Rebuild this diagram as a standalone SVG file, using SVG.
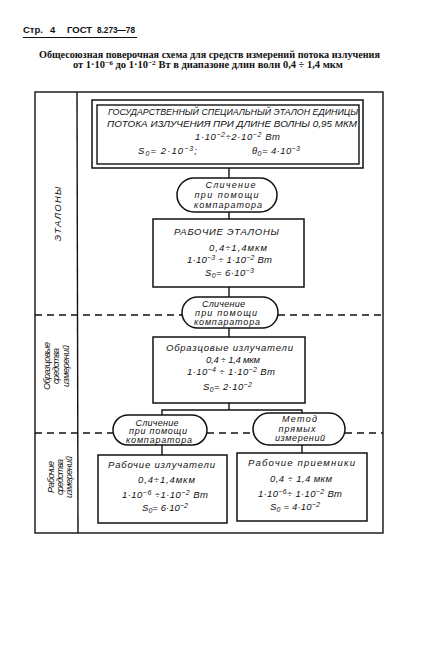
<svg xmlns="http://www.w3.org/2000/svg" width="425" height="663" viewBox="0 0 425 663">
<style>
.ln{stroke:#111;stroke-width:1.4;fill:none}
.bx{stroke:#111;stroke-width:1.5;fill:#fff}
.dash{stroke:#111;stroke-width:1.3;stroke-dasharray:7,5;fill:none}
.t{font-family:"Liberation Sans","DejaVu Sans",sans-serif;font-style:italic;fill:#111;text-anchor:middle}
.b9{font-size:9.5px}
.e8{font-size:9px}
.hd{font-family:"Liberation Sans",sans-serif;font-weight:bold;font-size:9.5px;fill:#111}
.ti{font-family:"Liberation Serif",serif;font-weight:bold;font-size:10px;fill:#111}
</style>
<rect width="425" height="663" fill="#fff"/>
<g id="header">
<text class="hd" x="23" y="33">Стр.</text>
<text class="hd" x="50" y="33">4</text>
<text class="hd" x="67" y="33">ГОСТ</text>
<text class="hd" x="97" y="33" textLength="38" lengthAdjust="spacingAndGlyphs">8.273—78</text>
<line x1="23" y1="37.5" x2="137" y2="37.5" stroke="#111" stroke-width="1.2"/>
<text class="ti" x="39" y="58" textLength="341" lengthAdjust="spacingAndGlyphs">Общесоюзная поверочная схема для средств измерений потока излучения</text>
<text class="ti" x="73" y="68" textLength="270" lengthAdjust="spacingAndGlyphs">от 1·10<tspan dy="-3.5" font-size="7">−6</tspan><tspan dy="3.5"> до 1·10</tspan><tspan dy="-3.5" font-size="7">−2</tspan><tspan dy="3.5"> Вт в диапазоне длин волн 0,4 ÷ 1,4 мкм</tspan></text>
</g>
<g id="frame">
<rect class="ln" x="35" y="92" width="348" height="441"/>
<line class="ln" x1="77" y1="92" x2="78" y2="533"/>
</g>
<g id="section-labels">
<g transform="translate(57.5,214) rotate(-90)"><text class="t b9" x="0" y="3.5" textLength="55">ЭТАЛОНЫ</text></g>
<g transform="translate(57,366) rotate(-90)">
<text class="t e8" x="0" y="-7.5" textLength="48">Образцовые</text>
<text class="t e8" x="0" y="2" textLength="36">средства</text>
<text class="t e8" x="0" y="11.5" textLength="42">измерений</text>
</g>
<g transform="translate(57,477) rotate(-90)">
<text class="t e8" x="0" y="-3.5" textLength="32">Рабочие</text>
<text class="t e8" x="0" y="5.5" textLength="36">средства</text>
<text class="t e8" x="0" y="14.5" textLength="42">измерений</text>
</g>
</g>
<g id="connectors">
<line class="ln" x1="229" y1="168" x2="229" y2="178"/>
<line class="ln" x1="229" y1="212" x2="229" y2="219"/>
<line class="ln" x1="229" y1="287" x2="229" y2="297"/>
<line class="ln" x1="229" y1="328" x2="229" y2="337"/>
<polyline class="ln" points="229,403 229,410"/>
<polyline class="ln" points="162,415 162,410 302,410 302,413"/>
<line class="ln" x1="162" y1="445" x2="162" y2="455"/>
<line class="ln" x1="302" y1="445" x2="302" y2="453"/>
<line class="dash" x1="35" y1="315" x2="182" y2="315"/>
<line class="dash" x1="278" y1="315" x2="383" y2="315"/>
<line class="dash" x1="35" y1="433" x2="113" y2="433"/>
<line class="dash" x1="207" y1="433" x2="253" y2="433"/>
<line class="dash" x1="345" y1="433" x2="383" y2="433"/>
</g>
<g id="state-standard">
<rect class="bx" x="92" y="100" width="271" height="68"/>
<rect class="ln" x="97" y="105" width="262" height="59"/>
<text class="t b9" x="233" y="115" textLength="250" lengthAdjust="spacingAndGlyphs">ГОСУДАРСТВЕННЫЙ  СПЕЦИАЛЬНЫЙ ЭТАЛОН ЕДИНИЦЫ</text>
<text class="t b9" x="232" y="127" textLength="250" lengthAdjust="spacingAndGlyphs">ПОТОКА ИЗЛУЧЕНИЯ ПРИ ДЛИНЕ ВОЛНЫ  0,95 МКМ</text>
<text class="t b9" x="237.5" y="140" textLength="85">1·10<tspan dy="-3.5" font-size="7">−2</tspan><tspan dy="3.5">÷2·10</tspan><tspan dy="-3.5" font-size="7">−2</tspan><tspan dy="3.5"> Вт</tspan></text>
<text class="t b9" x="167.5" y="154" textLength="59">S<tspan font-size="7" dy="2">0</tspan><tspan dy="-2">= 2·10</tspan><tspan dy="-3.5" font-size="7">−3</tspan><tspan dy="3.5">;</tspan></text>
<text class="t b9" x="276" y="154" textLength="48">θ<tspan font-size="7" dy="2">0</tspan><tspan dy="-2">= 4·10</tspan><tspan dy="-3.5" font-size="7">−3</tspan></text>
</g>
<g id="comparator-1">
<rect class="bx" x="177" y="178" width="100" height="34" rx="17"/>
<text class="t e8" x="230.5" y="188" textLength="50">Сличение</text>
<text class="t e8" x="226.5" y="198" textLength="64">при помощи</text>
<text class="t e8" x="228" y="207.5" textLength="68">компаратора</text>
</g>
<g id="working-standards">
<rect class="bx" x="153" y="219" width="151" height="68"/>
<text class="t b9" x="226.5" y="235" textLength="105">РАБОЧИЕ  ЭТАЛОНЫ</text>
<text class="t b9" x="238" y="251" textLength="58">0,4÷1,4мкм</text>
<text class="t b9" x="229.5" y="263" textLength="85">1·10<tspan dy="-3.5" font-size="7">−3</tspan><tspan dy="3.5"> ÷ 1·10</tspan><tspan dy="-3.5" font-size="7">−2</tspan><tspan dy="3.5"> Вт</tspan></text>
<text class="t b9" x="229.5" y="276" textLength="49">S<tspan font-size="7" dy="2">0</tspan><tspan dy="-2">= 6·10</tspan><tspan dy="-3.5" font-size="7">−3</tspan></text>
</g>
<g id="comparator-2">
<rect class="bx" x="182" y="297" width="96" height="31" rx="15.5"/>
<text class="t e8" x="223.5" y="307" textLength="43">Сличение</text>
<text class="t e8" x="226" y="316" textLength="62">при помощи</text>
<text class="t e8" x="227" y="325" textLength="66">компаратора</text>
</g>
<g id="reference-emitters">
<rect class="bx" x="153" y="337" width="152" height="66"/>
<text class="t b9" x="229.5" y="351" textLength="127">Образцовые  излучатели</text>
<text class="t b9" x="233" y="363" textLength="54">0,4 ÷ 1,4 мкм</text>
<text class="t b9" x="231" y="375" textLength="88">1·10<tspan dy="-3.5" font-size="7">−4</tspan><tspan dy="3.5"> ÷ 1·10</tspan><tspan dy="-3.5" font-size="7">−2</tspan><tspan dy="3.5"> Вт</tspan></text>
<text class="t b9" x="227.5" y="390" textLength="49">S<tspan font-size="7" dy="2">0</tspan><tspan dy="-2">= 2·10</tspan><tspan dy="-3.5" font-size="7">−2</tspan></text>
</g>
<g id="comparator-3">
<rect class="bx" x="113" y="415" width="94" height="30" rx="15"/>
<text class="t e8" x="157" y="425.5" textLength="43">Сличение</text>
<text class="t e8" x="158" y="434" textLength="58">при помощи</text>
<text class="t e8" x="159" y="442.5" textLength="66">компаратора</text>
</g>
<g id="direct-method">
<rect class="bx" x="253" y="413" width="92" height="32" rx="16"/>
<text class="t e8" x="299.5" y="422" textLength="35">Метод</text>
<text class="t e8" x="297" y="432" textLength="37">прямых</text>
<text class="t e8" x="300" y="441" textLength="50">измерений</text>
</g>
<g id="working-emitters">
<rect class="bx" x="98" y="455" width="129" height="68"/>
<text class="t b9" x="161.5" y="468" textLength="107">Рабочие  излучатели</text>
<text class="t b9" x="166.5" y="483" textLength="57">0,4÷1,4мкм</text>
<text class="t b9" x="165" y="498" textLength="86">1·10<tspan dy="-3.5" font-size="7">−6</tspan><tspan dy="3.5">  ÷1·10</tspan><tspan dy="-3.5" font-size="7">−2</tspan><tspan dy="3.5"> Вт</tspan></text>
<text class="t b9" x="165" y="511" textLength="46">S<tspan font-size="7" dy="2">0</tspan><tspan dy="-2">= 6·10</tspan><tspan dy="-3.5" font-size="7">−2</tspan></text>
</g>
<g id="working-receivers">
<rect class="bx" x="237" y="453" width="130" height="68"/>
<text class="t b9" x="301.5" y="466" textLength="107">Рабочие  приемники</text>
<text class="t b9" x="301" y="482" textLength="62">0,4 ÷ 1,4 мкм</text>
<text class="t b9" x="300" y="497" textLength="84">1·10<tspan dy="-3.5" font-size="7">−6</tspan><tspan dy="3.5">÷ 1·10</tspan><tspan dy="-3.5" font-size="7">−2</tspan><tspan dy="3.5"> Вт</tspan></text>
<text class="t b9" x="295" y="510" textLength="50">S<tspan font-size="7" dy="2">0</tspan><tspan dy="-2"> = 4·10</tspan><tspan dy="-3.5" font-size="7">−2</tspan></text>
</g>
</svg>
